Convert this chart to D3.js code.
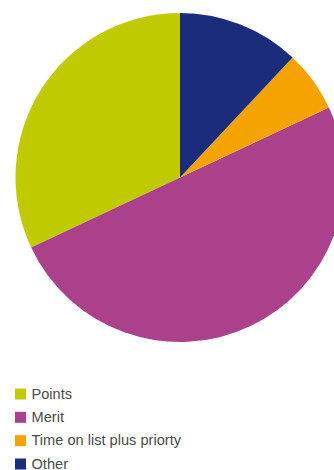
<!DOCTYPE html>
<html>
<head>
<meta charset="utf-8">
<script src="https://cdn.jsdelivr.net/npm/d3@7/dist/d3.min.js"></script>
<style>
  html, body { margin: 0; padding: 0; background: #fff; }
  svg { display: block; }
</style>
</head>
<body>
<svg id="chart" width="334" height="470"></svg>
<script>
// Allocation method shares (%)
const categories = ["Points", "Merit", "Time on list plus priorty", "Other"];
const values = [32, 50, 6, 12];
const colors = ["#bfcb00", "#aa418a", "#f4a300", "#1b2c7a"];

const svg = d3.select("#chart");
const cx = 180, cy = 177.5, radius = 164.5;

// Slices run counter-clockwise from 12 o'clock
const pie = d3.pie()
  .sort(null)
  .value(d => d.value)
  .startAngle(0)
  .endAngle(-2 * Math.PI);

const arc = d3.arc().innerRadius(0).outerRadius(radius);

const data = categories.map((c, i) => ({ name: c, value: values[i], color: colors[i] }));

svg.append("g")
  .attr("transform", `translate(${cx},${cy})`)
  .selectAll("path")
  .data(pie(data))
  .join("path")
  .attr("d", arc)
  .attr("fill", d => d.data.color);

// Legend
const legendY = d3.scalePoint().domain(categories).range([394, 464]);
const legend = svg.append("g")
  .selectAll("g")
  .data(data)
  .join("g")
  .attr("transform", d => `translate(15,${legendY(d.name)})`);

legend.append("rect")
  .attr("x", 0).attr("y", -5.5)
  .attr("width", 11).attr("height", 11)
  .attr("fill", d => d.color);

legend.append("text")
  .attr("x", 16.5).attr("y", 4.8)
  .attr("font-family", "Liberation Sans, Arial, Helvetica, sans-serif")
  .attr("font-size", 14.6)
  .attr("fill", "#4a4a4a")
  .text(d => d.name);
</script>
</body>
</html>
